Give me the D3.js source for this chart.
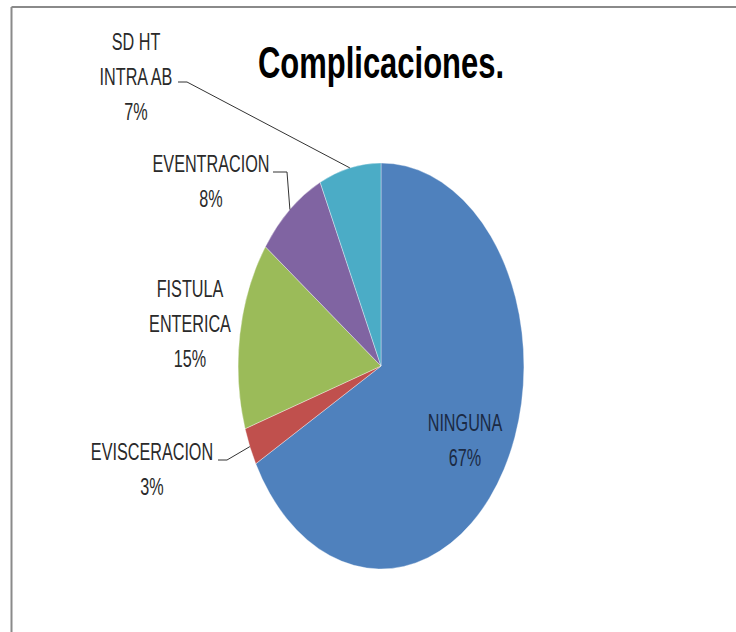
<!DOCTYPE html>
<html>
<head>
<meta charset="utf-8">
<script src="https://cdn.jsdelivr.net/npm/d3@7"></script>
<style>
  html, body { margin: 0; padding: 0; background: #fff; }
  svg { display: block; }
</style>
</head>
<body>
<svg id="chart" width="736" height="632"></svg>
<script>
// Complicaciones: share of patients by complication (percent)
const categories = ["NINGUNA", "EVISCERACION", "FISTULA ENTERICA", "EVENTRACION", "SD HT INTRA AB"];
const values = [67, 3, 15, 8, 7];
const colors = ["#4F81BD", "#C0504D", "#9BBB59", "#8064A2", "#4BACC6"];

// Label text broken into lines, one entry per slice
const labelLines = [
  ["NINGUNA"],
  ["EVISCERACION"],
  ["FISTULA", "ENTERICA"],
  ["EVENTRACION"],
  ["SD HT", "INTRA AB"]
];

// Layout: the pie is drawn as a circle and squeezed horizontally into an ellipse
const W = 736, H = 632;
const cx = 381, cy = 366, R = 203, sx = 0.704;

// Label placement (centre x, first baseline) and leader elbows
const labelLayout = [
  { x: 465, y: 431, inside: true },
  { x: 152, y: 460, leader: { from: [218, 460], elbow: [227, 460] } },
  { x: 190, y: 297 },
  { x: 211, y: 172, leader: { from: [273, 172], elbow: [287, 172] } },
  { x: 136, y: 50,  leader: { from: [178, 82],  elbow: [187, 82] } }
];
const lineGap = 35;

const svg = d3.select("#chart");

// Chart frame (top and left edges)
svg.append("line").attr("x1", 11.5).attr("y1", 7).attr("x2", W).attr("y2", 7)
  .attr("stroke", "#8a8a8a").attr("stroke-width", 2);
svg.append("line").attr("x1", 11.5).attr("y1", 7).attr("x2", 11.5).attr("y2", H)
  .attr("stroke", "#8a8a8a").attr("stroke-width", 2);

// Title
svg.append("text")
  .attr("transform", `translate(381,78) scale(${sx},1)`)
  .attr("text-anchor", "middle")
  .attr("font-family", "'Liberation Sans', Arial, sans-serif")
  .attr("font-weight", "bold")
  .attr("font-size", 44)
  .attr("fill", "#000")
  .text("Complicaciones.");

const data = categories.map((c, i) => ({ name: c, value: values[i], color: colors[i], lines: labelLines[i], layout: labelLayout[i] }));

const pie = d3.pie().sort(null).value(d => d.value);
const arcs = pie(data);
const arc = d3.arc().innerRadius(0).outerRadius(R);

const total = d3.sum(values);
const pct = d3.format(".0%");

// Slices
const g = svg.append("g").attr("transform", `translate(${cx},${cy}) scale(${sx},1)`);
g.selectAll("path")
  .data(arcs)
  .join("path")
  .attr("d", arc)
  .attr("fill", d => d.data.color)
  .attr("stroke", "#ffffff")
  .attr("stroke-opacity", 0.45)
  .attr("stroke-width", 0.8)
  .attr("vector-effect", "non-scaling-stroke");

// Point on the ellipse edge at the middle angle of a slice
function edgePoint(a) {
  const mid = (a.startAngle + a.endAngle) / 2;
  return [cx + sx * R * Math.sin(mid), cy - R * Math.cos(mid)];
}

// Leader lines
arcs.forEach(a => {
  const L = a.data.layout.leader;
  if (!L) return;
  const p = edgePoint(a);
  svg.append("polyline")
    .attr("points", [L.from, L.elbow, p].map(q => q.join(",")).join(" "))
    .attr("fill", "none")
    .attr("stroke", "#333")
    .attr("stroke-width", 1);
});

// Labels: name lines followed by the percentage
arcs.forEach(a => {
  const d = a.data, L = d.layout;
  const lines = d.lines.concat([pct(d.value / total)]);
  lines.forEach((t, i) => {
    svg.append("text")
      .attr("transform", `translate(${L.x},${L.y + i * lineGap}) scale(${sx},1)`)
      .attr("text-anchor", "middle")
      .attr("font-family", "'Liberation Sans', Arial, sans-serif")
      .attr("font-size", 23)
      .attr("fill", L.inside ? "#1b2a44" : "#2a2a2a")
      .text(t);
  });
});
</script>
</body>
</html>
